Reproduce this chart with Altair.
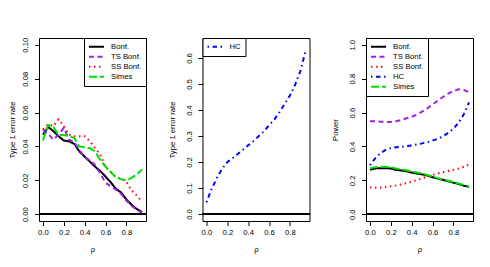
import altair as alt
import pandas as pd

rho = [0.0, 0.05, 0.1, 0.15, 0.2, 0.25, 0.3, 0.35, 0.4, 0.45,
       0.5, 0.55, 0.6, 0.65, 0.7, 0.75, 0.8, 0.85, 0.9, 0.95]

# Panel 1: type 1 error rate
t1_bonf = [0.047, 0.0515, 0.049, 0.046, 0.0435, 0.043, 0.0415, 0.037, 0.034, 0.031,
           0.028, 0.0255, 0.0222, 0.0188, 0.015, 0.0128, 0.0087, 0.0056, 0.003, 0.0012]
t1_ts = [0.050, 0.0475, 0.044, 0.047, 0.051, 0.044, 0.0425, 0.038, 0.0335, 0.032,
         0.029, 0.024, 0.0185, 0.0165, 0.0145, 0.012, 0.008, 0.005, 0.0025, 0.0008]
t1_ss = [0.050, 0.053, 0.052, 0.056, 0.052, 0.047, 0.046, 0.046, 0.046, 0.043,
         0.039, 0.035, 0.028, 0.025, 0.022, 0.021, 0.019, 0.014, 0.011, 0.0075]
t1_simes = [0.0435, 0.0527, 0.0515, 0.0467, 0.0467, 0.046, 0.045, 0.040, 0.0395, 0.039,
            0.037, 0.032, 0.028, 0.025, 0.0215, 0.0207, 0.020, 0.0215, 0.0235, 0.0264]

# Panel 2: HC type 1 error rate
t1_hc = [0.045, 0.097, 0.138, 0.174, 0.199, 0.215, 0.231, 0.247, 0.264, 0.28,
         0.299, 0.318, 0.341, 0.363, 0.392, 0.423, 0.456, 0.497, 0.549, 0.626]

# Panel 3: power
pw_bonf = [0.262, 0.27, 0.272, 0.272, 0.27, 0.262, 0.258, 0.254, 0.246, 0.24,
           0.235, 0.228, 0.218, 0.21, 0.203, 0.195, 0.186, 0.178, 0.168, 0.162]
pw_ts = [0.548, 0.548, 0.546, 0.545, 0.545, 0.549, 0.556, 0.566, 0.575, 0.588,
         0.605, 0.625, 0.648, 0.67, 0.692, 0.712, 0.728, 0.737, 0.733, 0.72]
pw_ss = [0.158, 0.156, 0.157, 0.16, 0.165, 0.17, 0.176, 0.183, 0.192, 0.202,
         0.212, 0.222, 0.232, 0.24, 0.248, 0.255, 0.262, 0.27, 0.28, 0.293]
pw_hc = [0.29, 0.33, 0.36, 0.38, 0.39, 0.395, 0.398, 0.402, 0.405, 0.412,
         0.418, 0.425, 0.434, 0.445, 0.46, 0.48, 0.505, 0.54, 0.59, 0.66]
pw_simes = [0.27, 0.278, 0.28, 0.28, 0.278, 0.27, 0.265, 0.26, 0.252, 0.246,
            0.24, 0.232, 0.222, 0.213, 0.205, 0.198, 0.19, 0.181, 0.172, 0.165]

x_ticks = [0.0, 0.2, 0.4, 0.6, 0.8]

STYLE = {
    "Bonf.": ("#000000", [1, 0]),
    "TS Bonf.": ("#A020F0", [5, 3.5]),
    "SS Bonf.": ("#FF0000", [1.5, 3.5]),
    "HC": ("#0000FF", [1.5, 3.5, 4.5, 3.5]),
    "Simes": ("#00E000", [8, 3]),
}

FONT = "Liberation Sans"
FS = 7.7
W, H = 107, 183


def long_df(series, field):
    rows = []
    for name, vals in series:
        for r, v in zip(rho, vals):
            rows.append({"rho": r, "value": v, field: name})
    return pd.DataFrame(rows)


def panel(series, field, ydomain, yticks, yfmt, ytitle, lorient, tpad):
    names = [n for n, _ in series]
    df = long_df(series, field)
    legend = alt.Legend(
        title=None, orient=lorient, offset=0,
        symbolType="stroke", symbolSize=225, symbolStrokeWidth=2,
        strokeColor="black", fillColor="white", padding=4,
        labelFont=FONT, labelFontSize=FS, labelColor="black",
        rowPadding=0, clipHeight=9.3, labelOffset=6, cornerRadius=0,
    )
    lines = alt.Chart(df).mark_line(strokeWidth=2, strokeCap="butt").encode(
        x=alt.X("rho:Q", scale=alt.Scale(domain=[-0.038, 0.988], nice=False, zero=False),
                axis=alt.Axis(values=x_ticks, tickCount=20, format=".1f", title="ρ")),
        y=alt.Y("value:Q", scale=alt.Scale(domain=ydomain, nice=False, zero=False),
                axis=alt.Axis(values=yticks, tickCount=20, format=yfmt, title=ytitle,
                              titlePadding=tpad, labelOverlap=False, labelAngle=270,
                              labelAlign="center", labelBaseline="bottom", labelPadding=5)),
        color=alt.Color(f"{field}:N", sort=names,
                        scale=alt.Scale(domain=names, range=[STYLE[n][0] for n in names]),
                        legend=legend),
        strokeDash=alt.StrokeDash(f"{field}:N", sort=names,
                                  scale=alt.Scale(domain=names, range=[STYLE[n][1] for n in names]),
                                  legend=legend),
    )
    zero = alt.Chart(df).mark_rule(color="black", strokeWidth=1).encode(
        y=alt.datum(0)
    )
    return alt.layer(lines, zero).properties(width=W, height=H)


p1 = panel([("Bonf.", t1_bonf), ("TS Bonf.", t1_ts), ("SS Bonf.", t1_ss), ("Simes", t1_simes)],
           "m1", [-0.004, 0.104], [0, 0.02, 0.04, 0.06, 0.08, 0.10], ".2f",
           "Type 1 error rate", "top-right", 5)
p2 = panel([("HC", t1_hc)],
           "m2", [-0.027, 0.677], [0, 0.1, 0.2, 0.3, 0.4, 0.5, 0.6], ".1f",
           "Type 1 error rate", "top-left", 9)
p3 = panel([("Bonf.", pw_bonf), ("TS Bonf.", pw_ts), ("SS Bonf.", pw_ss), ("HC", pw_hc), ("Simes", pw_simes)],
           "m3", [-0.04, 1.04], [0, 0.2, 0.4, 0.6, 0.8, 1.0], ".1f",
           "Power", "top-left", 9)

chart = alt.hconcat(p1, p2, p3, spacing=56.5, bounds="flush").resolve_scale(
    color="independent", strokeDash="independent", x="independent", y="independent"
).configure_view(
    stroke="black", strokeWidth=1
).configure_axis(
    grid=False, domain=False, tickColor="black", tickSize=4.5, tickWidth=1,
    labelFont=FONT, labelFontSize=FS, labelColor="black", labelFlush=False, labelOverlap=False,
    titleFont=FONT, titleFontSize=FS, titleFontWeight="normal", titleColor="black",
).configure_axisX(
    labelPadding=3, titlePadding=9,
).properties(
    padding={"left": 0, "top": 28, "right": 5, "bottom": 5},
    background="white",
)

chart.save("out.html", embed_options={"renderer": "svg", "actions": False})
